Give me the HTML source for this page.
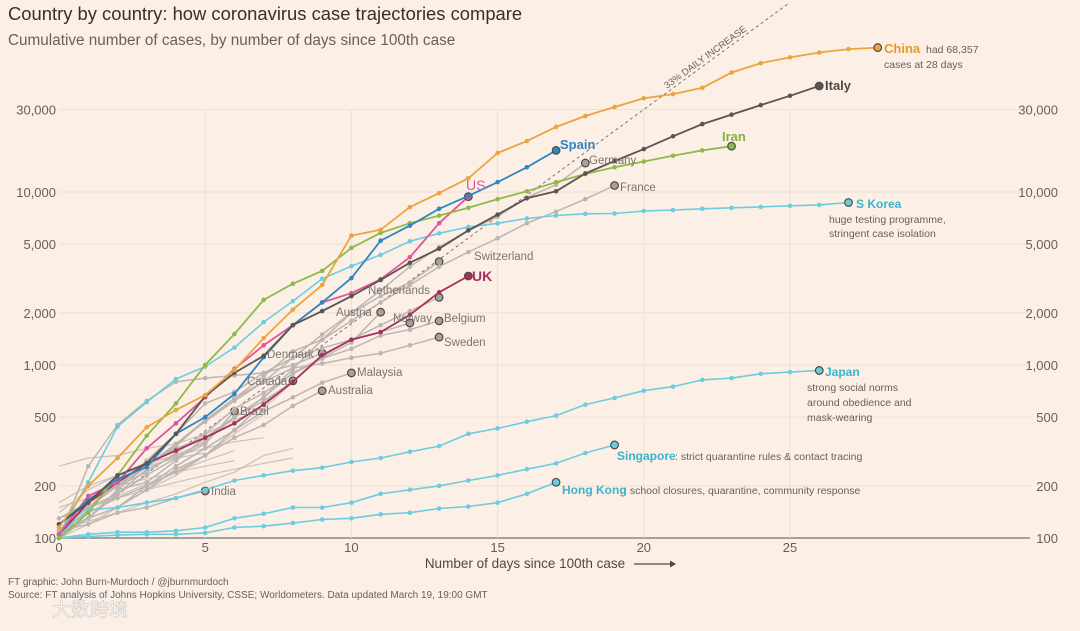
<!DOCTYPE html>
<html><head><meta charset="utf-8"><style>
html,body{margin:0;padding:0;background:#fcf0e6;}
svg{display:block;font-family:"Liberation Sans","Noto Sans CJK SC",sans-serif;}
</style></head><body>
<svg id="chart" width="1080" height="631" viewBox="0 0 1080 631">
<rect x="0" y="0" width="1080" height="631" fill="#fcf0e6"/>
<text x="8" y="20" font-size="18.4" fill="#33302e">Country by country: how coronavirus case trajectories compare</text>
<text x="8" y="45" font-size="15.3" fill="#66605c">Cumulative number of cases, by number of days since 100th case</text>
<g id="grid"></g>
<g id="ref"></g>
<g id="series"></g>
<g id="labels"></g>
<text x="525" y="568" font-size="13.5" fill="#4d4845" text-anchor="middle">Number of days since 100th case</text>
<line x1="634" y1="564" x2="670" y2="564" stroke="#4d4845" stroke-width="1.2"/>
<polygon points="670,560.5 676,564 670,567.5" fill="#4d4845"/>
<text x="8" y="585" font-size="10" fill="#66605c">FT graphic: John Burn-Murdoch / @jburnmurdoch</text>
<text x="8" y="598" font-size="10" fill="#66605c">Source: FT analysis of Johns Hopkins University, CSSE; Worldometers. Data updated March 19, 19:00 GMT</text>
<text x="52" y="616" font-size="19" fill="#ffffff" stroke="#cfc8c2" stroke-width="0.6">大数跨境</text>
</svg>
<script>
const xTicks=[0,5,10,15,20,25];
const yTicks=[100,200,500,1000,2000,5000,10000,30000];
const yTickLabels=["100","200","500","1,000","2,000","5,000","10,000","30,000"];
const china=[115,200,290,437,550,670,935,1430,2090,2900,5600,6050,8180,9860,12000,16800,19700,23800,27500,31000,34800,36800,40000,49000,55600,60000,64000,67000,68357];
const italy=[120,160,230,270,400,660,900,1130,1700,2050,2500,3100,3900,4700,6000,7400,9200,10100,12800,15100,17700,21000,24700,28000,31800,36000,41000];
const spain=[120,165,220,257,400,500,680,1110,1700,2300,3180,5230,6390,8000,9500,11400,13900,17400];
const iran=[100,140,230,390,600,1000,1510,2380,2950,3500,4750,5800,6600,7300,8100,9100,10100,11400,12700,13900,15000,16200,17400,18400];
const us=[105,175,210,330,460,650,950,1300,1700,2300,2600,3130,4200,6600,9400];
const uk=[105,160,210,270,320,380,460,590,800,1140,1400,1550,1950,2630,3270];
const skorea=[105,210,440,610,830,980,1260,1770,2340,3150,3730,4330,5190,5770,6280,6590,7030,7310,7480,7510,7760,7870,8000,8100,8200,8320,8420,8700];
const japan=[105,145,150,160,170,190,215,230,245,255,275,290,315,340,400,430,470,510,590,645,710,750,820,840,890,910,930];
const singapore=[100,105,108,108,110,115,130,138,150,150,160,180,190,200,215,230,250,270,310,345];
const hongkong=[100,102,104,105,105,107,115,117,122,128,130,137,140,148,152,160,180,210];
const germany=[130,160,200,260,350,480,640,800,1100,1500,2000,2700,3700,4800,6000,7200,9300,11000,14700];
const france=[100,130,190,210,280,380,500,650,950,1400,1800,2300,2900,3700,4500,5400,6600,7700,9100,10900];
const switzerland=[110,150,210,260,340,480,640,860,1200,1400,2000,2500,3000,3960];
const netherlands=[100,130,190,260,330,380,500,620,800,1130,1400,1700,2050,2460];
const belgium=[110,170,200,240,310,400,560,690,890,1090,1240,1480,1600,1800];
const sweden=[100,160,200,260,350,470,620,800,960,1020,1100,1170,1300,1450];
const norway=[110,150,200,280,400,600,700,900,1100,1250,1400,1550,1750];
const austria=[110,130,180,250,300,360,500,650,900,1100,1350,2020];
const denmark=[100,260,450,620,800,840,870,900,1000,1170];
const malaysia=[110,130,150,200,240,300,420,540,650,790,900];
const canada=[110,140,170,200,260,330,420,600,810];
const australia=[110,130,150,190,250,300,380,450,580,710];
const brazil=[120,150,180,230,290,350,540];
const india=[110,120,140,150,170,187];
const extra1=[260,290,300,330,350,400,480,560,800];
const extra2=[150,170,200,220,240,260,280];
const extra3=[130,150,170,190,210,230,250,270,290];
const extra4=[110,125,140,160,180,210,240,300,330];
const extra5=[140,190,230,270,300,330,360,380];
const extra6=[120,150,175,205,240,280,320];
const extra7=[100,120,150,190,230,300,400,520];
const extra8=[160,200,230,260,290,310];
const growthRate=1.33;
const refDays=[0,25];

const NS="http://www.w3.org/2000/svg";
const X0=59,DX=29.24,Y0=538,DEC=173;
function xs(d){return X0+d*DX;}
function ys(v){return Y0-(Math.log10(v)-2)*DEC;}
function mk(tag,attrs,parent){const e=document.createElementNS(NS,tag);for(const k in attrs)e.setAttribute(k,attrs[k]);parent.appendChild(e);return e;}
const grid=document.getElementById('grid');
yTicks.forEach((v,i)=>{
  const l=mk('line',{x1:X0,x2:1030,y1:ys(v),y2:ys(v),stroke:i===0?'#8a8480':'#ece1d6','stroke-width':i===0?1.4:1},grid);
  
  
  const t=mk('text',{x:56,y:ys(v)+5,'font-size':13,fill:'#66605c','text-anchor':'end'},grid);
  t.textContent=yTickLabels[i];
  
  
  const t2=mk('text',{x:1058,y:ys(v)+5,'font-size':13,fill:'#66605c','text-anchor':'end'},grid);
  t2.textContent=yTickLabels[i];
  
  
});
xTicks.forEach(d=>{
  if(d>0){const l=mk('line',{x1:xs(d),x2:xs(d),y1:ys(30000),y2:Y0,stroke:'#ece1d6','stroke-width':1},grid);
  
  }
  const t=mk('text',{x:xs(d),y:552,'font-size':13,fill:'#66605c','text-anchor':'middle'},grid);
  t.textContent=String(d);
  
  
});
const ref=document.getElementById('ref');
const r0=refDays[0],r1=refDays[1];
const rl=mk('line',{x1:xs(r0),y1:ys(100*Math.pow(growthRate,r0)),x2:xs(r1),y2:ys(100*Math.pow(growthRate,r1)),stroke:'#7a7470','stroke-width':1,'stroke-dasharray':'3,3'},ref);


const ang=Math.atan2(ys(100*Math.pow(growthRate,25))-ys(100),xs(25)-xs(0))*180/Math.PI;
const rt=mk('text',{x:667,y:89,'font-size':9.5,fill:'#66605c',transform:`rotate(${ang} 667 89)`},ref);
rt.textContent='33% DAILY INCREASE';



const sg=document.getElementById('series');
function drawSeries(arr,color,width,name,dots,endDot,op){
  const g=mk('g',{opacity:op||1},sg);
  
  
  const p=arr.map((v,i)=>(i?'L':'M')+xs(i).toFixed(1)+','+ys(v).toFixed(1)).join('');
  const path=mk('path',{d:p,fill:'none',stroke:color,'stroke-width':width,'stroke-linejoin':'round'},g);
  
  
  if(dots){arr.forEach((v,i)=>{if(i===arr.length-1)return;
    const c=mk('circle',{cx:xs(i),cy:ys(v),r:2.3,fill:color},g);
    
    });}
  if(endDot){const n=arr.length-1;
    const c=mk('circle',{cx:xs(n),cy:ys(arr[n]),r:3.8,fill:endDot,stroke:'#4d4845','stroke-width':1.2},g);
    
    }
}
const GRAY='#bdb6b0';
[extra1,extra2,extra3,extra4,extra5,extra6,extra7,extra8].forEach((a,i)=>drawSeries(a,GRAY,1.2,'other-country-'+(i+1),false,null,0.8));
[[india,'india'],[brazil,'brazil'],[australia,'australia'],[canada,'canada'],[malaysia,'malaysia'],[denmark,'denmark'],[austria,'austria'],[norway,'norway'],[sweden,'sweden'],[belgium,'belgium'],[netherlands,'netherlands'],[switzerland,'switzerland'],[france,'france'],[germany,'germany']].forEach(([a,n])=>drawSeries(a,GRAY,1.5,n,true,'#a9a29c'));
const CY='#6ccde0';
drawSeries(hongkong,CY,1.6,'hong-kong',true,CY);
drawSeries(singapore,CY,1.6,'singapore',true,CY);
drawSeries(japan,CY,1.6,'japan',true,CY);
drawSeries(skorea,CY,1.6,'s-korea',true,CY);
drawSeries(uk,'#a8305e',1.8,'uk',true,'#a8305e');
drawSeries(us,'#e0559a',1.8,'us',true,'#e0559a');
drawSeries(iran,'#8fba48',1.8,'iran',true,'#8fba48');
drawSeries(spain,'#2f86c0',1.8,'spain',true,'#2f86c0');
drawSeries(italy,'#5a5552',1.8,'italy',true,'#5a5552');
drawSeries(china,'#eaa53e',1.8,'china',true,'#eaa53e');

const lg=document.getElementById('labels');
function lab(x,y,txt,color,size,bold,name){
  const t=mk('text',{x:x,y:y,'font-size':size,fill:color,'font-weight':bold?'bold':'normal'},lg);
  t.textContent=txt;
  
  
}
lab(884,53,'China','#e39a2e',13,true,'china-label');
lab(926,53,'had 68,357','#66605c',10.5,false,'china-note');
lab(884,68,'cases at 28 days','#66605c',10.5,false,'china-note-2');
lab(825,90,'Italy','#4d4845',13,true,'italy-label');
lab(722,141,'Iran','#86b03c',13,true,'iran-label');
lab(560,149,'Spain','#2f86c0',13,true,'spain-label');
lab(466,190,'US','#e0559a',14,false,'us-label');
lab(472,281,'UK','#a8305e',14,true,'uk-label');
lab(589,164,'Germany','#7a7470',11.5,false,'germany-label');
lab(620,191,'France','#7a7470',11.5,false,'france-label');
lab(474,260,'Switzerland','#7a7470',11.5,false,'switzerland-label');
lab(368,294,'Netherlands','#7a7470',11.5,false,'netherlands-label');
lab(336,316,'Austria','#7a7470',11.5,false,'austria-label');
lab(393,322,'Norway','#7a7470',11.5,false,'norway-label');
lab(444,322,'Belgium','#7a7470',11.5,false,'belgium-label');
lab(444,346,'Sweden','#7a7470',11.5,false,'sweden-label');
lab(267,358,'Denmark','#7a7470',11.5,false,'denmark-label');
lab(357,376,'Malaysia','#7a7470',11.5,false,'malaysia-label');
lab(247,385,'Canada','#7a7470',11.5,false,'canada-label');
lab(328,394,'Australia','#7a7470',11.5,false,'australia-label');
lab(240,415,'Brazil','#7a7470',11.5,false,'brazil-label');
lab(211,495,'India','#7a7470',11.5,false,'india-label');
lab(856,208,'S Korea','#38b5cc',12,true,'s-korea-label');
lab(829,223,'huge testing programme,','#66605c',10.5,false,'s-korea-note');
lab(829,237,'stringent case isolation','#66605c',10.5,false,'s-korea-note-2');
lab(825,376,'Japan','#38b5cc',12,true,'japan-label');
lab(807,391,'strong social norms','#66605c',10.5,false,'japan-note');
lab(807,406,'around obedience and','#66605c',10.5,false,'japan-note-2');
lab(807,421,'mask-wearing','#66605c',10.5,false,'japan-note-3');
lab(617,460,'Singapore','#38b5cc',12,true,'singapore-label');
lab(675,460,': strict quarantine rules & contact tracing','#66605c',10.5,false,'singapore-note');
lab(562,494,'Hong Kong','#38b5cc',12,true,'hong-kong-label');
lab(624,494,': school closures, quarantine, community response','#66605c',10.5,false,'hong-kong-note');
</script>
</body></html>
